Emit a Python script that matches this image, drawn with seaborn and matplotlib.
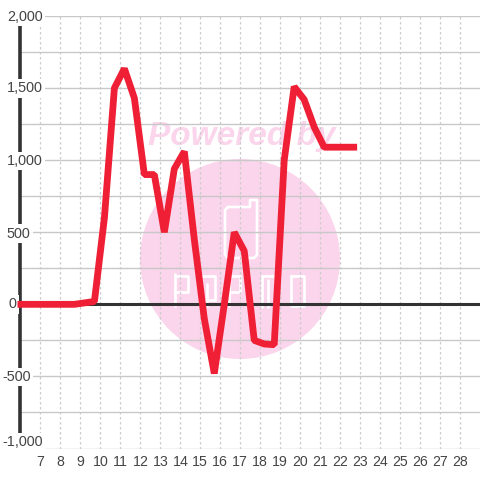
import matplotlib
matplotlib.use('Agg')
import matplotlib.pyplot as plt
from matplotlib.patches import Circle
from matplotlib.transforms import Affine2D
import pandas as pd
import seaborn as sns

# values
x_vals = [5.85, 6.2, 6.7, 7.2, 7.7, 8.2, 8.7, 9.2, 9.7, 10.2, 10.7, 11.2, 11.7, 12.2, 12.7,
          13.2, 13.7, 14.2, 14.7, 15.2, 15.7, 16.2, 16.7, 17.2, 17.7, 18.2, 18.7, 19.2,
          19.7, 20.2, 20.7, 21.2, 21.7, 22.2, 22.85]
y_vals = [0, 0, 0, 0, 0, 0, 0, 10, 20, 600, 1500, 1635, 1430, 900, 900,
          500, 940, 1060, 450, -100, -480, 0, 500, 370, -250, -275, -280, 1000,
          1510, 1420, 1230, 1090, 1090, 1090, 1090]
x_ticks = list(range(7, 29))
y_labels = ['2,000', '1,500', '1,000', '500', '0', '-500', '-1,000']
y_grid = list(range(-1000, 2001, 250))

# pixel anchors of the y labels (right edge, centre)
label_right = [43, 43, 43, 30.5, 16.5, 31, 43]
label_mid = [17, 88.5, 161, 233.5, 304.5, 377, 442]

sns.set_theme(style='white')
plt.rcParams['font.family'] = ['Liberation Sans', 'DejaVu Sans']

fig = plt.figure(figsize=(4.8, 4.8), dpi=100, facecolor='white')
ax = fig.add_axes([20.5 / 480, 31.5 / 480, 459.5 / 480, 432.5 / 480])
ax.set_xlim(6, 29)
ax.set_ylim(-1000, 2000)

# pixel coordinates, top-left origin, for the watermark and labels
px = Affine2D().scale(1 / 480, -1 / 480).translate(0, 1) + fig.transFigure

# watermark
PINK = '#FBD5EC'
fig.add_artist(Circle((240, 259), 100, transform=px, fc=PINK, ec='none', zorder=-5))
fig.text(148, 145, 'Powered by', transform=px, color=PINK, fontsize=24, fontweight='bold',
         fontstyle='italic', ha='left', va='baseline', zorder=-5)
strokes = [
    ([228, 250, 250, 257, 257, 254, 228, 225, 225, 228], [207, 207, 200, 200, 255, 258, 258, 255, 210, 207]),
    ([175, 175], [274, 306]), ([175, 188, 188, 175], [276, 276, 292, 292]),
    ([197, 215, 215], [276, 276, 300]), ([207, 207], [284, 306]), ([200, 215], [300, 300]),
    ([229, 229], [274, 306]), ([229, 240, 240, 229], [276, 276, 292, 292]),
    ([262, 262, 275, 275], [307, 276, 276, 307]), ([268, 268], [280, 307]),
    ([291, 291, 304, 304, 291], [276, 306, 306, 276, 276]),
]
for sx, sy in strokes:
    fig.add_artist(plt.Line2D(sx, sy, transform=px, color='white', lw=1.9, zorder=-4,
                              solid_joinstyle='round', solid_capstyle='round'))

ax.patch.set_alpha(0)
for s in ax.spines.values():
    s.set_visible(False)

ax.set_xticks(x_ticks)
ax.set_yticks(y_grid)
ax.set_yticklabels([])
ax.tick_params(axis='both', length=0)
ax.tick_params(axis='x', labelsize=10.2, labelcolor='#444444', pad=5)
ax.grid(axis='y', color='#C8C8C8', lw=1.0, ls='-')
ax.grid(axis='x', color='#CCCCCC', lw=0.9, ls=(0, (2.0, 2.0)))
ax.set_axisbelow(True)

ax.axhline(0, color='#333333', lw=2.2, zorder=2)
ax.axvline(6, color='#333333', lw=2.6, zorder=2, clip_on=False)

df = pd.DataFrame({'x': x_vals, 'y': y_vals})
sns.lineplot(data=df, x='x', y='y', ax=ax, color='#EF2035', lw=4.9, sort=False, errorbar=None,
             zorder=3, clip_on=False, solid_joinstyle='bevel', solid_capstyle='butt')
ax.set_xlabel('')
ax.set_ylabel('')

for lab, r, m in zip(y_labels, label_right, label_mid):
    ax.text(r, m, lab, transform=px, ha='right', va='center', fontsize=10.4,
            color='#444444', zorder=2.5, clip_on=False,
            bbox=dict(fc='white', ec='none', pad=1.6))

fig.savefig('out.png', dpi=100)
